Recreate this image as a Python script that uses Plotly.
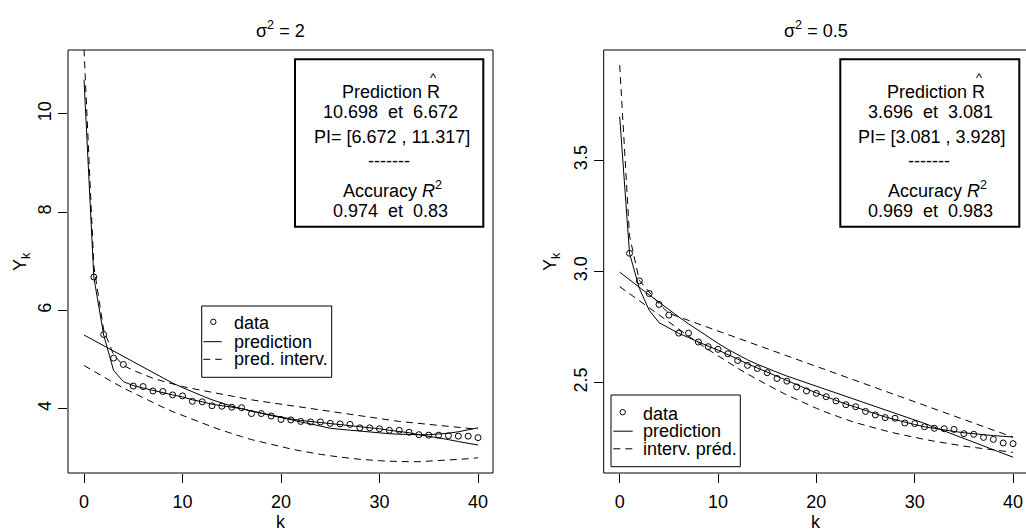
import plotly.graph_objects as go

W, H = 1026, 531
FONT = "Liberation Sans, Arial, Helvetica, sans-serif"
FS = 18

# ---------------- data ----------------
k_data = list(range(1, 41))
k_line = list(range(0, 41))

# left panel (sigma^2 = 2)
left_obs = [6.68, 5.51, 5.03, 4.90, 4.46, 4.45, 4.36, 4.35, 4.28, 4.26,
            4.15, 4.14, 4.06, 4.05, 4.03, 4.02, 3.90, 3.90, 3.85, 3.78,
            3.77, 3.74, 3.73, 3.73, 3.70, 3.69, 3.68, 3.61, 3.61, 3.59,
            3.56, 3.56, 3.52, 3.47, 3.46, 3.46, 3.45, 3.44, 3.44, 3.41]
left_pred_a = [10.698, 6.67, 5.50, 4.78, 4.55, 4.47, 4.42, 4.37, 4.33, 4.28,
               4.24, 4.18, 4.14, 4.09, 4.06, 4.03, 4.00, 3.95, 3.91, 3.87,
               3.82, 3.79, 3.76, 3.74, 3.72, 3.70, 3.68, 3.66, 3.63, 3.61,
               3.59, 3.56, 3.54, 3.51, 3.47, 3.44, 3.40, 3.37, 3.33, 3.30, 3.26]
left_pred_b = [5.50, 5.39, 5.28, 5.17, 5.06, 4.95, 4.84, 4.73, 4.62, 4.52,
               4.43, 4.34, 4.26, 4.18, 4.11, 4.05, 4.00, 3.95, 3.90, 3.86,
               3.82, 3.77, 3.73, 3.69, 3.64, 3.60, 3.58, 3.56, 3.54, 3.52,
               3.50, 3.49, 3.48, 3.47, 3.47, 3.47, 3.48, 3.50, 3.53, 3.57, 3.61]
left_upper = [11.317, 6.90, 5.60, 5.10, 4.88, 4.78, 4.70, 4.62, 4.56, 4.50,
              4.45, 4.41, 4.37, 4.33, 4.29, 4.25, 4.22, 4.18, 4.15, 4.12,
              4.09, 4.06, 4.03, 4.00, 3.97, 3.95, 3.92, 3.89, 3.86, 3.83,
              3.80, 3.77, 3.74, 3.72, 3.70, 3.68, 3.66, 3.64, 3.62, 3.60, 3.58]
left_lower = [4.88, 4.76, 4.64, 4.53, 4.42, 4.32, 4.22, 4.12, 4.03, 3.94,
              3.86, 3.78, 3.70, 3.63, 3.56, 3.49, 3.43, 3.37, 3.32, 3.27,
              3.22, 3.18, 3.14, 3.10, 3.07, 3.04, 3.01, 2.99, 2.97, 2.95,
              2.94, 2.93, 2.92, 2.92, 2.92, 2.93, 2.94, 2.95, 2.97, 2.98, 3.00]

# right panel (sigma^2 = 0.5)
right_obs = [3.082, 2.958, 2.901, 2.852, 2.804, 2.723, 2.723, 2.683, 2.662, 2.650,
             2.630, 2.600, 2.578, 2.564, 2.545, 2.519, 2.507, 2.481, 2.463, 2.452,
             2.437, 2.418, 2.401, 2.392, 2.371, 2.355, 2.343, 2.340, 2.319, 2.316,
             2.302, 2.295, 2.293, 2.290, 2.271, 2.268, 2.254, 2.245, 2.229, 2.226]
right_pred_a = [3.696, 3.082, 2.924, 2.826, 2.770, 2.745, 2.722, 2.703, 2.683, 2.664,
                2.647, 2.628, 2.606, 2.585, 2.566, 2.547, 2.527, 2.509, 2.489, 2.471,
                2.454, 2.437, 2.420, 2.404, 2.390, 2.375, 2.360, 2.346, 2.334, 2.322,
                2.312, 2.302, 2.294, 2.287, 2.281, 2.275, 2.270, 2.266, 2.262, 2.259, 2.256]
right_pred_b = [2.997, 2.962, 2.928, 2.895, 2.862, 2.828, 2.796, 2.765, 2.735, 2.705,
                2.677, 2.650, 2.625, 2.603, 2.583, 2.564, 2.547, 2.530, 2.514, 2.499,
                2.484, 2.469, 2.454, 2.439, 2.424, 2.409, 2.394, 2.379, 2.364, 2.349,
                2.333, 2.317, 2.300, 2.283, 2.266, 2.249, 2.232, 2.215, 2.198, 2.182, 2.165]
right_upper = [3.928, 3.16, 2.96, 2.905, 2.855, 2.812, 2.796, 2.780, 2.764, 2.748,
               2.732, 2.716, 2.700, 2.684, 2.668, 2.652, 2.636, 2.620, 2.604, 2.588,
               2.572, 2.556, 2.540, 2.524, 2.508, 2.492, 2.476, 2.460, 2.444, 2.428,
               2.412, 2.396, 2.380, 2.364, 2.348, 2.332, 2.316, 2.300, 2.284, 2.268, 2.255]
right_lower = [2.932, 2.900, 2.867, 2.834, 2.802, 2.770, 2.739, 2.708, 2.678, 2.649,
               2.620, 2.592, 2.565, 2.539, 2.514, 2.490, 2.467, 2.445, 2.424, 2.404,
               2.385, 2.367, 2.350, 2.335, 2.320, 2.307, 2.295, 2.284, 2.273, 2.263,
               2.254, 2.245, 2.237, 2.229, 2.222, 2.215, 2.209, 2.203, 2.197, 2.192, 2.187]

titles = ["σ<sup>2</sup> = 2", "σ<sup>2</sup> = 0.5"]
left_box_lines = ["10.698\u00a0\u00a0et\u00a0\u00a06.672", "PI= [6.672 , 11.317]", "0.974\u00a0\u00a0et\u00a0\u00a00.83"]
right_box_lines = ["3.696\u00a0\u00a0et\u00a0\u00a03.081", "PI= [3.081 , 3.928]", "0.969\u00a0\u00a0et\u00a0\u00a00.983"]
left_legend = ["data", "prediction", "pred. interv."]
right_legend = ["data", "prediction", "interv. préd."]


def px(x):
    return x / W


def py(y):
    return 1 - y / H


DASH = "7px,5px"
fig = go.Figure()


def add_panel(xa, ya, obs, pa, pb, up, lo):
    fig.add_trace(go.Scatter(x=k_data, y=obs, mode="markers", xaxis=xa, yaxis=ya,
                             marker=dict(symbol="circle-open", size=6, color="black",
                                         line=dict(width=1, color="black")),
                             showlegend=False, hoverinfo="skip"))
    for ys, dash in ((pa, "solid"), (pb, "solid"), (up, DASH), (lo, DASH)):
        fig.add_trace(go.Scatter(x=k_line, y=ys, mode="lines", xaxis=xa, yaxis=ya,
                                 line=dict(color="black", width=1, dash=dash),
                                 showlegend=False, hoverinfo="skip"))


add_panel("x", "y", left_obs, left_pred_a, left_pred_b, left_upper, left_lower)
add_panel("x2", "y2", right_obs, right_pred_a, right_pred_b, right_upper, right_lower)

ydom = [py(473), py(50)]
axis_common = dict(showgrid=False, zeroline=False, showline=False, ticks="outside",
                   ticklen=9, tickwidth=1, tickcolor="black",
                   tickfont=dict(family=FONT, size=FS, color="black"))

fig.update_layout(
    width=W, height=H, margin=dict(l=0, r=0, t=0, b=0),
    paper_bgcolor="white", plot_bgcolor="white",
    xaxis=dict(domain=[px(68), px(493)], range=[-1.624, 41.52], anchor="y",
               tickvals=[0, 10, 20, 30, 40], ticklabelstandoff=3, **axis_common),
    yaxis=dict(domain=ydom, range=[2.690, 11.303], anchor="x",
               tickvals=[4, 6, 8, 10], tickangle=-90, **axis_common),
    xaxis2=dict(domain=[px(603.7), 1.0], range=[-1.627, 41.32], anchor="y2",
                tickvals=[0, 10, 20, 30, 40], ticklabelstandoff=3, **axis_common),
    yaxis2=dict(domain=ydom, range=[2.094, 3.996], anchor="x2",
                tickvals=[2.5, 3.0, 3.5], ticktext=["2.5", "3.0", "3.5"], tickangle=-90,
                **axis_common),
)

shapes = []
ann = []


def text(x, y, s, size=FS, angle=0, xanchor="center"):
    ann.append(dict(x=px(x), y=py(y), xref="paper", yref="paper", text=s,
                    showarrow=False, xanchor=xanchor, yanchor="middle",
                    textangle=angle, font=dict(family=FONT, size=size, color="black")))


def rect(x0, y0, x1, y1, w=1):
    shapes.append(dict(type="rect", xref="paper", yref="paper", x0=px(x0), x1=px(x1),
                       y0=py(y1), y1=py(y0), line=dict(color="black", width=w),
                       fillcolor="rgba(0,0,0,0)"))


def hline(x0, x1, y, dash="solid"):
    shapes.append(dict(type="line", xref="paper", yref="paper", x0=px(x0), x1=px(x1),
                       y0=py(y), y1=py(y), line=dict(color="black", width=1, dash=dash)))


def circ(x, y, r=2.7):
    shapes.append(dict(type="circle", xref="paper", yref="paper", x0=px(x - r), x1=px(x + r),
                       y0=py(y + r), y1=py(y - r), line=dict(color="black", width=1)))


# plot frames
rect(68, 50, 493, 473)
rect(603.7, 50, 1040, 473)

# titles and axis titles
text(280.5, 29, titles[0])
text(816, 29, titles[1])
text(280.5, 522, "k")
text(816, 522, "k")
text(21, 262, "Y<sub>k</sub>", angle=-90)
text(551, 262, "Y<sub>k</sub>", angle=-90)

# text boxes
for (x0, x1, cx, lines, rx, pcx, acx) in (
        (295, 483.3, 390, left_box_lines, 433, 390.8, 392.5),
        (840.3, 1019.3, 930, right_box_lines, 979.8, 936.2, 937.3)):
    rect(x0, 59.3, x1, 226.7, w=2)
    text(pcx, 92, "Prediction R")
    text(rx, 78, "^", size=13)
    text(cx, 111.7, lines[0])
    text(cx + 2, 137, lines[1])
    text(cx - 1, 161, "-------")
    text(acx, 190, "Accuracy <i>R</i><sup>2</sup>")
    text(cx, 210.7, lines[2])

# legends
for (bx0, by0, bx1, by1, sx0, sx1, cx, tx, rows, labels) in (
        (201.7, 306, 331.7, 377.3, 203.3, 221.7, 213.3, 231.7, (323.3, 341.7, 359.3), left_legend),
        (611, 395, 740.3, 466.7, 613.3, 632.7, 622.7, 641, (413.7, 431.2, 448.8), right_legend)):
    rect(bx0, by0, bx1, by1)
    circ(cx, rows[0] - 1.5)
    hline(sx0, sx1, rows[1])
    hline(sx0, sx1, rows[2], dash=DASH)
    for r, lab in zip(rows, labels):
        text(tx, r, lab, xanchor="left")

fig.update_layout(shapes=shapes, annotations=ann)
fig.write_html("out.html")
